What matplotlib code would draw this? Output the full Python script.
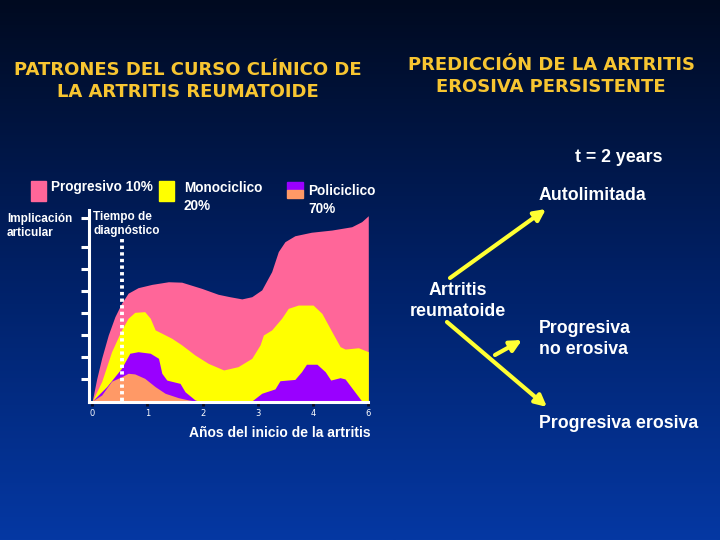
import numpy as np
import matplotlib
matplotlib.use("Agg")
import matplotlib.pyplot as plt
from matplotlib.colors import LinearSegmentedColormap
from matplotlib.patches import FancyArrowPatch, Rectangle

# stacked layer tops (years from onset, joint involvement)
pink_x = [0, 0.08, 0.17, 0.29, 0.41, 0.53, 0.65, 0.83, 1.08, 1.38, 1.62, 1.98, 2.28, 2.49,
          2.71, 2.89, 3.07, 3.25, 3.37, 3.49, 3.67, 3.97, 4.34, 4.7, 4.88, 5.0]
pink_y = [0, 1.0, 1.94, 3.0, 3.83, 4.44, 4.9, 5.15, 5.3, 5.42, 5.4, 5.12, 4.85, 4.74,
          4.64, 4.74, 5.05, 5.88, 6.79, 7.24, 7.51, 7.67, 7.77, 7.92, 8.15, 8.42]

yellow_x = [0, 0.17, 0.35, 0.53, 0.65, 0.77, 0.95, 1.05, 1.14, 1.26, 1.44, 1.62, 1.86, 2.1,
            2.38, 2.64, 2.89, 3.04, 3.1, 3.25, 3.43, 3.55, 3.73, 4.0, 4.16, 4.34, 4.49,
            4.58, 4.82, 5.0]
yellow_y = [0, 0.88, 2.24, 3.23, 3.76, 4.03, 4.06, 3.76, 3.23, 3.08, 2.85, 2.55, 2.09, 1.71,
            1.41, 1.56, 1.94, 2.55, 3.0, 3.23, 3.76, 4.21, 4.36, 4.36, 3.98, 3.15, 2.47,
            2.36, 2.42, 2.24]

purple_x = [0, 0.26, 0.53, 0.68, 0.83, 1.05, 1.2, 1.26, 1.35, 1.59, 1.68, 1.86, 1.92,
            2.89, 3.07, 3.31, 3.4, 3.67, 3.79, 3.88, 4.07, 4.22, 4.32, 4.49, 4.58, 4.73, 4.88]
purple_y = [0, 0.65, 1.49, 2.17, 2.24, 2.17, 1.94, 1.26, 0.95, 0.8, 0.42, 0.05, 0,
            0, 0.35, 0.55, 0.92, 0.98, 1.33, 1.67, 1.67, 1.33, 0.95, 1.06, 1.0, 0.5, 0]

orange_x = [0, 0.17, 0.35, 0.53, 0.65, 0.77, 0.95, 1.14, 1.32, 1.56, 1.74, 1.86]
orange_y = [0, 0.27, 0.9, 1.1, 1.26, 1.23, 1.03, 0.65, 0.35, 0.15, 0.05, 0]

x_ticks = [0, 1, 2, 3, 4, 5]
x_tick_labels = ["0", "1", "2", "3", "4", "6"]
y_ticks = [1, 2, 3, 4, 5, 6, 7, 8.3]
diag_time = 0.53

PINK = "#ff6699"
YELLOW = "#ffff00"
PURPLE = "#9900ff"
ORANGE = "#ff9966"
GOLD = "#f7c531"
BOLD = "Liberation Sans"

fig = plt.figure(figsize=(7.2, 5.4), dpi=100)

# background gradient
bg = fig.add_axes([0, 0, 1, 1], zorder=-10)
cmap = LinearSegmentedColormap.from_list("bg", ["#000a20", "#002065", "#0538a3"])
bg.imshow(np.linspace(0, 1, 256).reshape(-1, 1), aspect="auto", cmap=cmap,
          extent=[0, 720, 540, 0])
bg.set_xlim(0, 720)
bg.set_ylim(540, 0)
bg.axis("off")

# chart
ax = fig.add_axes([0.1243, 0.2554, 0.3872, 0.3565])
ax.set_facecolor("none")
ax.fill_between(pink_x, pink_y, 0, color=PINK, lw=0)
ax.fill_between(yellow_x, yellow_y, 0, color=YELLOW, lw=0)
ax.fill_between(purple_x, purple_y, 0, color=PURPLE, lw=0)
ax.fill_between(orange_x, orange_y, 0, color=ORANGE, lw=0)
ax.plot([diag_time, diag_time], [0, 7.4], color="white", lw=2.8,
        linestyle=(0, (0.85, 0.85)))
ax.set_xlim(-0.05, 5.0)
ax.set_ylim(-0.05, 8.7)
for s in ["top", "right"]:
    ax.spines[s].set_visible(False)
for s in ["left", "bottom"]:
    ax.spines[s].set_color("white")
    ax.spines[s].set_linewidth(2.2)
ax.set_xticks(x_ticks)
ax.set_xticklabels(x_tick_labels)
ax.set_yticks(y_ticks)
ax.set_yticklabels([])
ax.tick_params(axis="x", colors="#0a0a20", length=3, width=2, pad=2, labelsize=6,
               labelcolor="white")
ax.tick_params(axis="y", colors="white", length=5.5, width=2.2)

# overlay text in pixel coords
ov = fig.add_axes([0, 0, 1, 1], zorder=5)
ov.set_xlim(0, 720)
ov.set_ylim(540, 0)
ov.axis("off")

ov.text(188, 81, "PATRONES DEL CURSO CLÍNICO DE\nLA ARTRITIS REUMATOIDE", color=GOLD,
        fontsize=13, fontweight="bold", family="DejaVu Sans", ha="center", va="center",
        linespacing=1.3)
ov.text(551, 76, "PREDICCIÓN DE LA ARTRITIS\nEROSIVA PERSISTENTE", color=GOLD,
        fontsize=13, fontweight="bold", family="DejaVu Sans", ha="center", va="center",
        linespacing=1.25)

# legend
ov.add_patch(Rectangle((31, 181), 15, 20, color=PINK))
ov.add_patch(Rectangle((159, 181), 15, 20, color=YELLOW))
ov.add_patch(Rectangle((287, 182), 16, 8, color=PURPLE))
ov.add_patch(Rectangle((287, 190), 16, 8, color=ORANGE))
lkw = dict(color="white", fontsize=9.8, fontweight="bold", family=BOLD, va="center",
           linespacing=1.3)
ov.text(51, 187, "Progresivo 10%", **lkw)
ov.text(184, 197, "Monociclico\n20%", **lkw)
ov.text(308, 200, "Policiclico\n70%", **lkw)
skw = dict(color="white", fontsize=8.5, fontweight="bold", family=BOLD, va="center")
ov.text(7, 226, "Implicación\narticular", **skw)
ov.text(93, 224, "Tiempo de\ndiagnóstico", **skw)
ov.text(280, 433, "Años del inicio de la artritis", color="white", fontsize=10,
        fontweight="bold", family=BOLD, ha="center", va="center")

# right panel
rkw = dict(color="white", fontsize=12.8, fontweight="bold", family=BOLD, va="center",
           linespacing=1.35)
ov.text(619, 158, "t = 2 years", ha="center", **rkw)
ov.text(539, 195, "Autolimitada", ha="left", **rkw)
ov.text(458, 301, "Artritis\nreumatoide", ha="center", **rkw)
ov.text(539, 339, "Progresiva\nno erosiva", ha="left", **rkw)
ov.text(539, 423, "Progresiva erosiva", ha="left", **rkw)

for (x0, y0), (x1, y1) in [((450, 278), (546, 209)), ((447, 322), (547, 407)),
                           ((495, 355), (522, 340))]:
    ov.add_patch(FancyArrowPatch((x0, y0), (x1, y1), arrowstyle="-|>",
                                 mutation_scale=17, lw=3, color="#ffff33",
                                 shrinkA=0, shrinkB=0))

fig.savefig("out.png", dpi=100)
